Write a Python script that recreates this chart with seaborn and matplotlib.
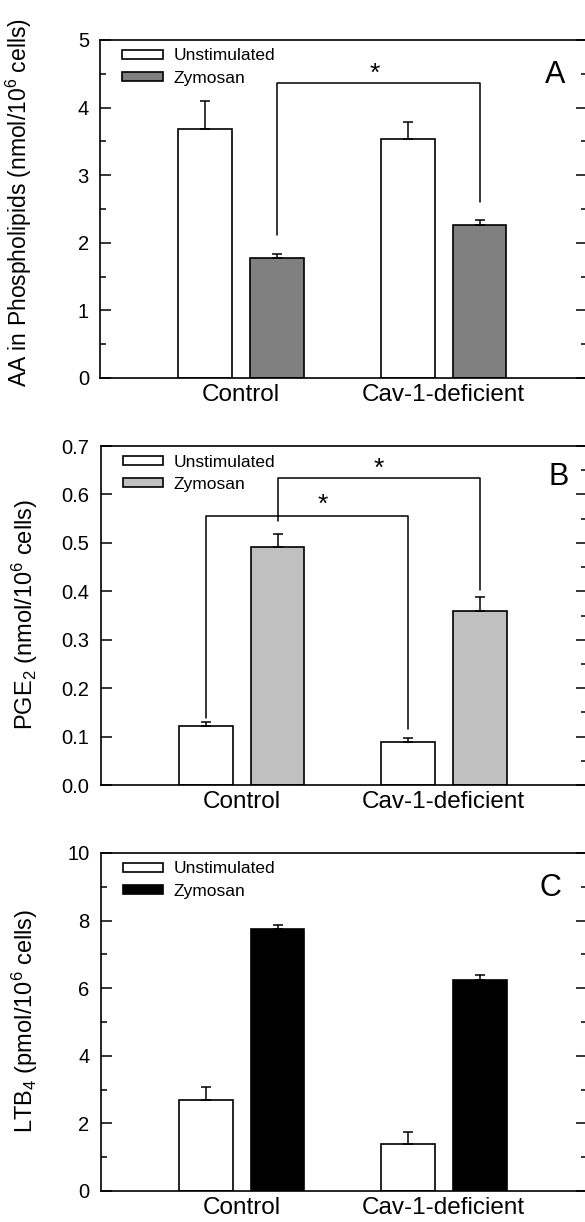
import numpy as np
import pandas as pd
import matplotlib
matplotlib.use("Agg")
import matplotlib.pyplot as plt
from matplotlib.ticker import MultipleLocator
import seaborn as sns

# Datos
groups = ["Control", "Cav-1-deficient"]
conditions = ["Unstimulated", "Zymosan"]

# Panel A - AA en fosfolipidos
aa_unstim = [3.68, 3.53]
aa_zym = [1.78, 2.26]
aa_unstim_err = [0.42, 0.25]
aa_zym_err = [0.05, 0.08]

# Panel B - PGE2
pge_unstim = [0.121, 0.089]
pge_zym = [0.491, 0.360]
pge_unstim_err = [0.009, 0.008]
pge_zym_err = [0.028, 0.029]

# Panel C - LTB4
ltb_unstim = [2.70, 1.40]
ltb_zym = [7.76, 6.25]
ltb_unstim_err = [0.37, 0.34]
ltb_zym_err = [0.11, 0.14]

# Corchetes de significancia: (condicion, pata izq, altura, pata der, x estrella, y estrella)
aa_brackets = [(1, 2.11, 4.37, 2.60, 0.66, 4.50)]
pge_brackets = [(0, 0.139, 0.555, 0.115, 0.40, 0.578),
                (1, 0.545, 0.634, 0.402, 0.68, 0.653)]
ltb_brackets = []

sns.set_style("ticks")
plt.rcParams["font.family"] = ["Liberation Sans", "DejaVu Sans"]
plt.rcParams["mathtext.fontset"] = "custom"
plt.rcParams["mathtext.rm"] = "Liberation Sans"
plt.rcParams["mathtext.it"] = "Liberation Sans:italic"
for key in ["text.color", "axes.labelcolor", "xtick.color", "ytick.color", "axes.edgecolor"]:
    plt.rcParams[key] = "black"


def draw_panel(ax, unstim, zym, unstim_err, zym_err, zym_color, ylim, major, minor,
               ylabel, label_x, label_y, label_size, letter, letter_x, letter_y,
               brackets, left_minor=True):
    df = pd.DataFrame({
        "group": groups * 2,
        "condition": [conditions[0]] * 2 + [conditions[1]] * 2,
        "value": unstim + zym,
    })
    sns.barplot(data=df, x="group", y="value", hue="condition", order=groups,
                hue_order=conditions, palette=["white", zym_color], saturation=1,
                width=0.71, gap=0.25, edgecolor="black", linewidth=1.2,
                errorbar=None, ax=ax)

    old = ax.get_legend()
    handles = old.legend_handles
    labels = [t.get_text() for t in old.texts]
    leg = ax.legend(handles, labels, loc="upper left", bbox_to_anchor=(0.045, 0.975),
                    frameon=False, fontsize=12.5, handlelength=2.35, handleheight=0.45,
                    handletextpad=0.6, labelspacing=0.42, borderpad=0, borderaxespad=0)
    for h in leg.legend_handles:
        h.set_edgecolor("black")
        h.set_linewidth(1.2)

    # Barras de error (solo hacia arriba)
    centers = {}
    for hi, (cont, errs) in enumerate(zip(ax.containers[:2], [unstim_err, zym_err])):
        for gi, (bar, e) in enumerate(zip(cont, errs)):
            x = bar.get_x() + bar.get_width() / 2
            y = bar.get_height()
            centers[(hi, gi)] = x
            ax.errorbar(x, y, yerr=[[0], [e]], fmt="none", ecolor="black",
                        elinewidth=1.1, capsize=3.3, capthick=1.1)

    for hi, lb, top, rb, sx, sy in brackets:
        x1 = centers[(hi, 0)]
        x2 = centers[(hi, 1)]
        ax.plot([x1, x1, x2, x2], [lb, top, top, rb], color="black", lw=1.1)
        ax.text(sx, sy, "*", ha="center", va="center", fontsize=19)

    ax.text(letter_x, letter_y, letter, ha="center", va="center", fontsize=22)

    ax.set_xlim(-0.698, 1.709)
    ax.set_ylim(*ylim)
    ax.yaxis.set_major_locator(MultipleLocator(major))
    ax.yaxis.set_minor_locator(MultipleLocator(minor))
    ax.tick_params(axis="y", which="both", direction="in", left=True, right=True,
                   labelright=False, width=1.1, labelsize=14.5, pad=8)
    ax.tick_params(axis="y", which="major", length=8)
    ax.tick_params(axis="y", which="minor", length=4)
    if not left_minor:
        ax.tick_params(axis="y", which="minor", left=False)
    ax.tick_params(axis="x", length=0, labelsize=17.5, pad=4)
    ax.set_xlabel("")
    ax.set_ylabel(ylabel, fontsize=label_size)
    ax.yaxis.set_label_coords(label_x, label_y)
    for s in ax.spines.values():
        s.set_linewidth(1.2)
        s.set_color("black")


fig = plt.figure(figsize=(5.85, 12.22), dpi=100)
ax_a = fig.add_axes([0.171, 0.6907, 0.8325, 0.2766])
ax_b = fig.add_axes([0.172, 0.3576, 0.8315, 0.2774])
ax_c = fig.add_axes([0.172, 0.0254, 0.8315, 0.2766])

draw_panel(ax_a, aa_unstim, aa_zym, aa_unstim_err, aa_zym_err, "#808080",
           (0, 5), 1, 0.5, "AA in Phospholipids (nmol/10$^6$ cells)", -0.135, 0.52, 16.5,
           "A", 1.55, 4.48, aa_brackets)
draw_panel(ax_b, pge_unstim, pge_zym, pge_unstim_err, pge_zym_err, "#c0c0c0",
           (0, 0.7), 0.1, 0.05, "PGE$_2$ (nmol/10$^6$ cells)", -0.125, 0.503, 17,
           "B", 1.566, 0.637, pge_brackets, left_minor=False)
draw_panel(ax_c, ltb_unstim, ltb_zym, ltb_unstim_err, ltb_zym_err, "black",
           (0, 10), 2, 1, "LTB$_4$ (pmol/10$^6$ cells)", -0.125, 0.502, 17,
           "C", 1.526, 8.97, ltb_brackets)

fig.savefig("out.png", dpi=100)
